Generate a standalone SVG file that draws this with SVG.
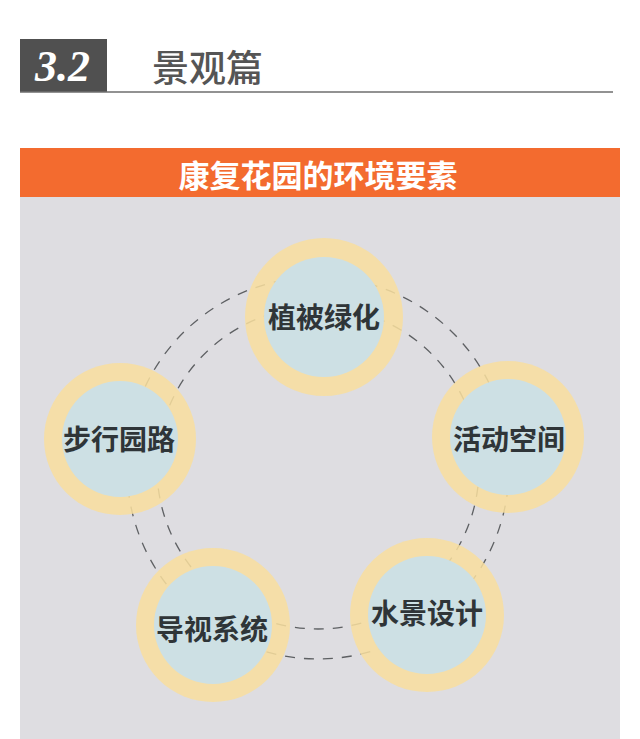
<svg xmlns="http://www.w3.org/2000/svg" width="640" height="739" viewBox="0 0 640 739">
<style>
.ring{fill:#F8DE9E;fill-opacity:0.86}
.core{fill:#CDE0E4}
.lbl{font-family:"Noto Sans CJK SC","Noto Sans",sans-serif;font-weight:bold;font-size:28px;fill:#2F3538;text-anchor:middle}
.dash{fill:none;stroke:#5E6063;stroke-width:1.3;stroke-dasharray:10 9}
</style>
<rect x="0" y="0" width="640" height="739" fill="#FFFFFF"/>
<g id="header">
<rect x="20" y="39" width="87" height="53" fill="#505050"/>
<line x1="20" y1="92" x2="613" y2="92" stroke="#6E6E6E" stroke-width="1.6"/>
<text x="35" y="81" font-family="Liberation Serif,serif" font-style="italic" font-weight="bold" font-size="44" fill="#FFFFFF">3.2</text>
<text x="152" y="82" font-family="Noto Sans CJK SC,sans-serif" font-weight="500" font-size="37" fill="#555555">景观篇</text>
</g>
<g id="panel">
<rect x="20" y="197" width="600" height="542" fill="#DEDDE1"/>
<rect x="20" y="148" width="600" height="49" fill="#F36B2F"/>
<text x="318" y="187" font-family="Noto Sans CJK SC,sans-serif" font-weight="bold" font-size="31" fill="#FFFFFF" text-anchor="middle">康复花园的环境要素</text>
</g>
<g id="connectors">
<circle class="dash" cx="318" cy="468" r="191"/>
<circle class="dash" cx="318" cy="468" r="161"/>
</g>
<g id="node-zhibei">
<circle class="ring" cx="324" cy="317" r="79"/>
<circle class="core" cx="324" cy="317" r="60"/>
<text class="lbl" x="324" y="328">植被绿化</text>
</g>
<g id="node-buxing">
<circle class="ring" cx="120" cy="439" r="76"/>
<circle class="core" cx="120" cy="439" r="58"/>
<text class="lbl" x="119" y="450">步行园路</text>
</g>
<g id="node-huodong">
<circle class="ring" cx="508" cy="437" r="76"/>
<circle class="core" cx="508" cy="437" r="58"/>
<text class="lbl" x="509" y="450">活动空间</text>
</g>
<g id="node-daoshi">
<circle class="ring" cx="213" cy="625" r="77"/>
<circle class="core" cx="213" cy="625" r="59"/>
<text class="lbl" x="212" y="640">导视系统</text>
</g>
<g id="node-shuijing">
<circle class="ring" cx="427" cy="615" r="77"/>
<circle class="core" cx="427" cy="615" r="59"/>
<text class="lbl" x="427" y="624">水景设计</text>
</g>
</svg>
